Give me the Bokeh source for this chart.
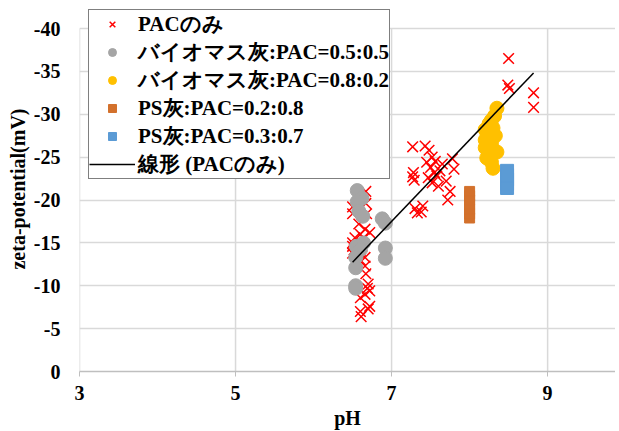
import numpy as np
from bokeh.plotting import figure
from bokeh.models import Range1d, FixedTicker, Legend, LegendItem
from bokeh.embed import file_html
from bokeh.resources import INLINE

# ---------------- data ----------------
pac_ph = [6.50, 6.50, 6.50, 6.50, 6.52, 6.50, 6.53,
          6.58, 6.60, 6.62, 6.60, 6.60, 6.60, 6.61,
          6.67, 6.67, 6.68, 6.66, 6.72, 6.64, 6.66, 6.66, 6.67, 6.70, 6.69, 6.72, 6.66, 6.72, 6.70,
          7.27, 7.28, 7.27, 7.29, 7.30, 7.33,
          7.43, 7.48, 7.52, 7.45, 7.50, 7.56, 7.55, 7.47, 7.58, 7.62, 7.52, 7.60, 7.40, 7.38,
          7.65, 7.70, 7.75, 7.72, 7.80, 7.78,
          8.50, 8.49, 8.51, 8.82, 8.82]
pac_zeta = [-19.2, -18.4, -15.0, -14.6, -14.2, -13.8, -15.6,
            -17.2, -16.0, -14.6, -13.0, -8.6, -7.0, -6.4,
            -21.0, -19.6, -18.4, -16.6, -16.2, -15.6, -13.3, -12.3, -11.4, -10.2, -9.7, -9.4, -9.0, -7.6, -7.3,
            -26.2, -23.2, -22.7, -22.3, -19.0, -18.5,
            -26.3, -25.8, -25.0, -24.4, -23.8, -24.5, -23.2, -22.6, -22.8, -23.4, -22.0, -21.6, -19.3, -18.6,
            -24.2, -22.2, -21.0, -20.0, -23.6, -24.8,
            -36.5, -33.4, -33.0, -32.5, -30.8]

bio55_ph = [6.56, 6.62, 6.56, 6.58, 6.63, 6.64, 6.55, 6.60, 6.54, 6.54, 6.54, 6.54,
            6.88, 6.92, 6.92, 6.92]
bio55_zeta = [-21.1, -20.2, -19.8, -18.7, -18.1, -15.0, -14.6, -14.2, -13.3, -12.1, -10.0, -9.7,
              -17.8, -17.3, -14.4, -13.2]

bio82_ph = [8.35, 8.32, 8.28, 8.25, 8.30, 8.22, 8.33, 8.20, 8.28, 8.20, 8.31, 8.25, 8.35,
            8.22, 8.28, 8.30, 8.20, 8.26]
bio82_zeta = [-30.7, -29.8, -29.3, -28.9, -28.4, -27.9, -27.5, -27.0, -26.6, -26.1, -25.8, -25.4,
              -25.6, -24.9, -24.4, -23.7, -28.2, -27.3]

ps28_ph = [8.00, 8.00, 8.00, 8.00, 8.00, 8.00, 8.00]
ps28_zeta = [-17.9, -18.4, -18.9, -19.5, -20.0, -20.5, -21.0]

ps37_ph = [8.48, 8.48, 8.48, 8.48, 8.48]
ps37_zeta = [-21.4, -21.9, -22.4, -22.9, -23.4]

x_ticks = [3, 5, 7, 9]
y_ticks = [0, -5, -10, -15, -20, -25, -30, -35, -40]
y_tick_labels = ["0", "-5", "-10", "-15", "-20", "-25", "-30", "-35", "-40"]

labels = ["PACのみ", "バイオマス灰:PAC=0.5:0.5", "バイオマス灰:PAC=0.8:0.2",
          "PS灰:PAC=0.2:0.8", "PS灰:PAC=0.3:0.7", "線形 (PACのみ)"]

# ---------------- figure ----------------
FONT = "Liberation Serif, Noto Sans CJK JP"

# frame: x=3 at px 79, y=0 at px 371, y=-40 at px 28;
# frame is extended to the top (px 6) so the legend can sit above the -40 line
TOP_PX = 6
Y_TOP = y_ticks[-1] * (371 - TOP_PX) / (371 - 28)

p = figure(width=615, height=431, output_backend="svg", toolbar_location=None,
           x_range=Range1d(3, 9.87), y_range=Range1d(0, Y_TOP),
           min_border_left=79, min_border_top=TOP_PX, min_border_right=0, min_border_bottom=60)
p.outline_line_color = None
p.background_fill_color = "white"

p.xgrid.grid_line_color = None
p.ygrid.grid_line_color = "#D9D9D9"
p.ygrid.grid_line_width = 1.5
# vertical grid lines, only from 0 to -40 as in the reference
p.segment(x0=x_ticks, y0=[y_ticks[0]] * len(x_ticks), x1=x_ticks, y1=[y_ticks[-1]] * len(x_ticks),
          line_color="#D9D9D9", line_width=1.5)

p.xaxis.ticker = FixedTicker(ticks=x_ticks)
p.yaxis.ticker = FixedTicker(ticks=y_ticks)
p.yaxis.major_label_overrides = {t: l for t, l in zip(y_ticks, y_tick_labels)}

for ax in (p.xaxis, p.yaxis):
    ax.major_label_text_font = FONT
    ax.major_label_text_font_style = "bold"
    ax.major_label_text_font_size = "20px"
    ax.major_label_text_color = "black"
    ax.axis_label_text_font = FONT
    ax.axis_label_text_font_style = "bold"
    ax.axis_label_text_font_size = "20px"
    ax.axis_label_text_color = "black"
    ax.minor_tick_line_color = None

p.xaxis.axis_label = "pH"
p.xaxis.axis_line_color = "#BFBFBF"
p.xaxis.axis_line_width = 1.5
p.xaxis.major_tick_line_color = "#BFBFBF"
p.xaxis.major_tick_in = 0
p.xaxis.major_tick_out = 5
p.xaxis.major_label_standoff = 9
p.xaxis.axis_label_standoff = 4

p.yaxis.axis_label = "zeta-potential(mV)"
p.yaxis.axis_line_color = None
p.yaxis.major_tick_line_color = None
p.yaxis.major_label_standoff = 13
p.yaxis.axis_label_standoff = 2

r_pac = p.scatter(pac_ph, pac_zeta, marker="x", size=15, line_color="#FF0000", line_width=1.5)
r_b55 = p.scatter(bio55_ph, bio55_zeta, marker="circle", size=14, fill_color="#A5A5A5",
                  line_color="#A5A5A5")
r_b82 = p.scatter(bio82_ph, bio82_zeta, marker="circle", size=14, fill_color="#FFC000",
                  line_color="#FFC000")
r_p28 = p.scatter(ps28_ph, ps28_zeta, marker="square", size=10, fill_color="#D3712C",
                  line_color="#D3712C")
r_p37 = p.scatter(ps37_ph, ps37_zeta, marker="square", size=13, fill_color="#5B9BD5",
                  line_color="#5B9BD5")

# linear trend line of PAC-only series
slope, intercept = np.polyfit(pac_ph, pac_zeta, 1)
tx = [min(pac_ph), max(pac_ph)]
ty = [slope * v + intercept for v in tx]
r_lin = p.line(tx, ty, line_color="black", line_width=1.5)

legend = Legend(items=[LegendItem(label=l, renderers=[r]) for l, r in
                       zip(labels, [r_pac, r_b55, r_b82, r_p28, r_p37, r_lin])],
                location=(9, 192))
legend.label_text_font = "Liberation Serif"
legend.label_text_font_style = "bold"
legend.label_text_font_size = "21px"
legend.label_text_color = "black"
legend.label_height = 20
legend.glyph_height = 20
legend.glyph_width = 46
legend.label_standoff = 3
legend.spacing = -2
legend.padding = 0
legend.margin = 0
legend.border_line_color = "black"
legend.border_line_width = 1.2
legend.background_fill_color = "white"
legend.background_fill_alpha = 1.0
p.add_layout(legend)

open("out.html", "w").write(file_html(p, INLINE))
